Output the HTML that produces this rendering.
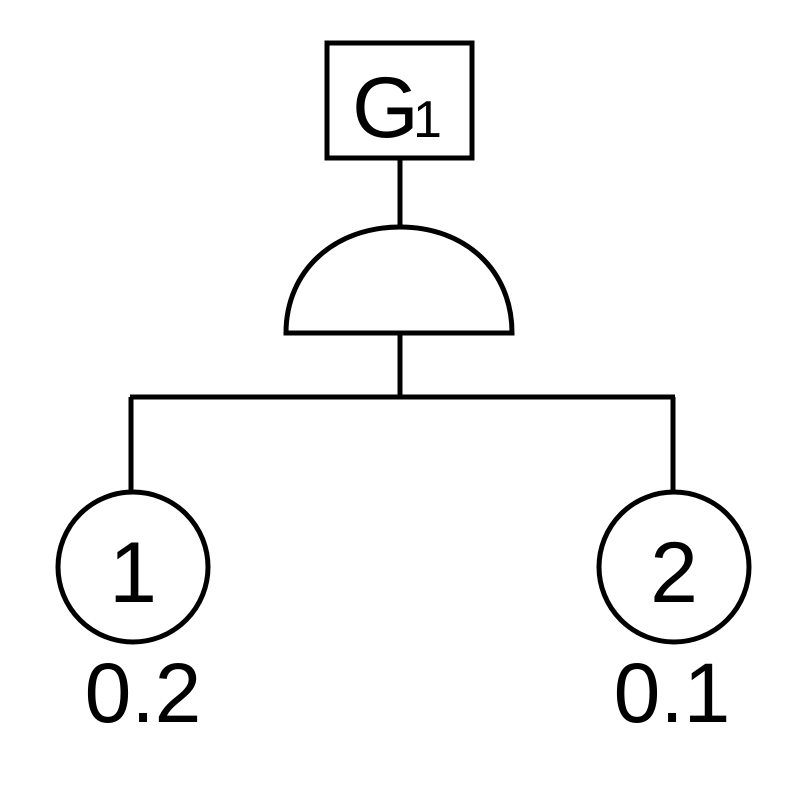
<!DOCTYPE html>
<html><head><style>html,body{margin:0;padding:0;background:#fff}</style></head>
<body>
<svg width="794" height="784" viewBox="0 0 794 784" xmlns="http://www.w3.org/2000/svg">
<g fill="none" stroke="#000" stroke-width="5">
<rect x="327" y="43" width="145" height="115" fill="#fff"/>
<line x1="400" y1="158" x2="400" y2="227"/>
<path d="M286 333 C286 270 335 227 400 227 C465 227 512 270 512 333 Z" fill="#fff"/>
<line x1="400" y1="333" x2="400" y2="398"/>
<line x1="130" y1="397" x2="675" y2="397"/>
<line x1="131" y1="397" x2="131" y2="492"/>
<line x1="673" y1="397" x2="673" y2="492"/>
<circle cx="133" cy="567" r="75" fill="#fff"/>
<circle cx="674" cy="567" r="75" fill="#fff"/>
</g>
<g font-family="'Liberation Sans', 'DejaVu Sans', sans-serif" fill="#000">
<text x="352" y="137" font-size="86">G</text>
<text x="413" y="137" font-size="52">1</text>
<text x="133" y="602" font-size="86" text-anchor="middle">1</text>
<text x="674" y="602" font-size="86" text-anchor="middle">2</text>
<text x="143" y="722" font-size="84" text-anchor="middle">0.2</text>
<text x="672" y="722" font-size="84" text-anchor="middle">0.1</text>
</g>
</svg>
</body></html>
